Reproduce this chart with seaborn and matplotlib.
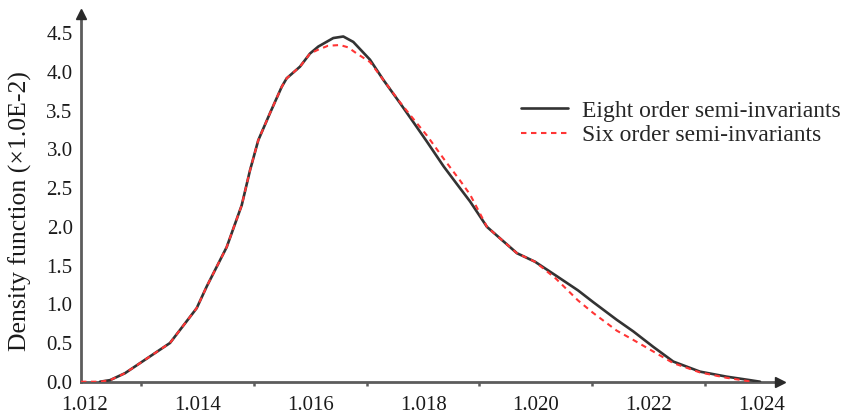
import matplotlib
matplotlib.use("Agg")
import matplotlib.pyplot as plt
from matplotlib.ticker import MultipleLocator, FormatStrFormatter
import seaborn as sns
import pandas as pd

# Voltage (p.u.) and density (x1.0E-2) for the eighth-order expansion
eight_x = [1.012266, 1.012444, 1.012710, 1.012976, 1.013508, 1.013982, 1.014160,
           1.014515, 1.014781, 1.014928, 1.015075, 1.015283, 1.015491, 1.015579,
           1.015815, 1.015993, 1.016140, 1.016406, 1.016584, 1.016761, 1.017058,
           1.017294, 1.017590, 1.017821, 1.018069, 1.018366, 1.018655, 1.018832,
           1.019134, 1.019666, 1.019986, 1.020359, 1.020749, 1.021015, 1.021436,
           1.021730, 1.022085, 1.022440, 1.022914, 1.023388, 1.023801, 1.023979]
eight_y = [0.00, 0.02, 0.11, 0.24, 0.50, 0.95, 1.23, 1.74, 2.28, 2.73, 3.12, 3.47,
           3.81, 3.92, 4.07, 4.24, 4.33, 4.44, 4.46, 4.39, 4.16, 3.90, 3.60, 3.36,
           3.10, 2.78, 2.50, 2.33, 2.00, 1.66, 1.55, 1.37, 1.18, 1.03, 0.80, 0.65,
           0.45, 0.26, 0.13, 0.065, 0.02, 0.00]

# Six-order expansion
six_x = [1.011929, 1.012266, 1.012444, 1.012710, 1.012976, 1.013508, 1.013982,
         1.014160, 1.014515, 1.014781, 1.014928, 1.015075, 1.015283, 1.015491,
         1.015579, 1.015815, 1.015993, 1.016140, 1.016312, 1.016526, 1.016668,
         1.016823, 1.017058, 1.017294, 1.017590, 1.017821, 1.018069, 1.018366,
         1.018655, 1.018832, 1.019134, 1.019666, 1.019986, 1.020359, 1.020749,
         1.021015, 1.021436, 1.021730, 1.022085, 1.022440, 1.022914, 1.023388,
         1.023837]
six_y = [0.00, 0.00, 0.02, 0.11, 0.24, 0.50, 0.95, 1.23, 1.74, 2.28, 2.73, 3.12,
         3.47, 3.81, 3.92, 4.07, 4.24, 4.29, 4.34, 4.35, 4.32, 4.24, 4.13, 3.90,
         3.61, 3.40, 3.18, 2.88, 2.60, 2.42, 2.00, 1.66, 1.55, 1.33, 1.05, 0.89,
         0.66, 0.54, 0.39, 0.24, 0.12, 0.05, 0.00]

series_labels = ["Eight order semi-invariants", "Six order semi-invariants"]
x_ticks = [1.012, 1.014, 1.016, 1.018, 1.020, 1.022, 1.024]
y_ticks = [0.0, 0.5, 1.0, 1.5, 2.0, 2.5, 3.0, 3.5, 4.0, 4.5]
y_label = "Density function (\u00d71.0E-2)"

sns.set_theme(style="white")
plt.rcParams["font.family"] = ["Liberation Serif", "DejaVu Serif"]

df_eight = pd.DataFrame({"x": eight_x, "y": eight_y})
df_six = pd.DataFrame({"x": six_x, "y": six_y})

W, H = 848, 417
fig = plt.figure(figsize=(W / 100, H / 100), dpi=100)
ax = fig.add_axes([81 / W, 1 - 381.7 / H, (780 - 81) / W, (381.7 - 14) / H])

axis_col = "#5c5c5c"
sns.lineplot(data=df_eight, x="x", y="y", ax=ax, color="#333333", lw=1.9,
             label=series_labels[0], sort=False, zorder=3)
sns.lineplot(data=df_six, x="x", y="y", ax=ax, color="#ff3535", lw=1.5,
             linestyle=(0, (2.6, 2.2)), label=series_labels[1], sort=False, zorder=4)

ax.set_xlim(1.012 - 4 / 56350, 1.012 + (780 - 85) / 56350)
ax.set_ylim(0, (381.7 - 14) / 77.4)

ax.set_xticks(x_ticks)
ax.xaxis.set_major_formatter(FormatStrFormatter("%.3f"))
ax.xaxis.set_minor_locator(MultipleLocator(0.001))
ax.set_yticks(y_ticks)
ax.yaxis.set_major_formatter(FormatStrFormatter("%.1f"))

for s in ["top", "right"]:
    ax.spines[s].set_visible(False)
for s in ["left", "bottom"]:
    ax.spines[s].set_color(axis_col)
    ax.spines[s].set_linewidth(2.0)

ax.tick_params(axis="both", which="major", direction="in", length=5, width=1.8,
               color=axis_col, labelsize=15, labelcolor="#1a1a1a")
ax.tick_params(axis="x", which="major", pad=10)
ax.tick_params(axis="y", which="major", pad=6)
ax.tick_params(axis="x", which="minor", direction="out", length=3, width=1.8,
               color=axis_col, bottom=True)

# arrow heads at the ends of both axes
ax.plot([0], [1], marker="^", ms=7, color="#2a2a2a", transform=ax.transAxes,
        clip_on=False, zorder=5)
ax.plot([1], [0], marker=">", ms=7, color="#2a2a2a", transform=ax.transAxes,
        clip_on=False, zorder=5)

ax.set_xlabel("")
ax.set_ylabel(y_label, fontsize=18.5, color="#1a1a1a")
ax.yaxis.set_label_coords((20 - 81) / 699, (381.7 - 211) / 367.7)
ax.yaxis.label.set_verticalalignment("center")

ax.legend(loc="upper left", bbox_to_anchor=(521 / W, 1 - 100 / H),
          bbox_transform=fig.transFigure, frameon=False, fontsize=17,
          handlelength=2.0, handletextpad=0.6, labelspacing=0.12,
          borderpad=0, borderaxespad=0)

fig.savefig("out.png", dpi=100)
